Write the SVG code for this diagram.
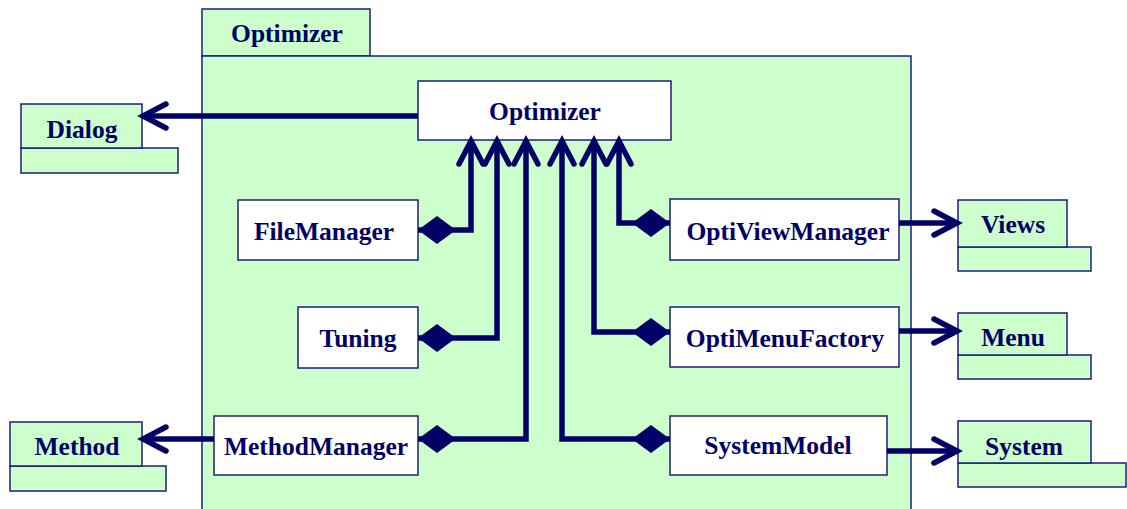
<svg xmlns="http://www.w3.org/2000/svg" width="1127" height="509" viewBox="0 0 1127 509">
  <style>
    .pkg { fill: #ccffcc; stroke: #1c1c80; stroke-width: 1.5; }
    .cls { fill: #ffffff; stroke: #1c1c80; stroke-width: 1.5; }
    .ext { fill: #ccffcc; stroke: #1c1c80; stroke-width: 1.5; }
    .lbl { font-family: "Liberation Serif", "Times New Roman", serif; font-weight: bold; font-size: 25.5px; fill: #000066; text-anchor: middle; }
    .link { fill: none; stroke: #000066; stroke-width: 5.5; stroke-linejoin: miter; }
    .dep { marker-end: url(#open); }
    .comp { marker-start: url(#diamond); }
  </style>
  <defs>
    <marker id="open" markerUnits="userSpaceOnUse" orient="auto" refX="0" refY="0" markerWidth="40" markerHeight="40" viewBox="-30 -20 40 40" overflow="visible">
      <path d="M -23 -12 L 0 0 L -23 12" fill="none" stroke="#000066" stroke-width="5.5" stroke-linecap="round" stroke-linejoin="miter"/>
    </marker>
    <marker id="diamond" markerUnits="userSpaceOnUse" orient="auto" refX="0" refY="0" markerWidth="50" markerHeight="40" viewBox="-5 -20 50 40" overflow="visible">
      <path d="M 0 0 L 19 -14 L 38 0 L 19 14 Z" fill="#000066"/>
    </marker>
  </defs>

  <!-- package Optimizer -->
  <g id="package-optimizer">
    <rect class="pkg" x="202" y="9" width="168" height="47"/>
    <rect class="pkg" x="202" y="56" width="709" height="460"/>
    <text class="lbl" x="287" y="42">Optimizer</text>
  </g>

  <!-- external packages -->
  <g id="dialog">
    <rect class="ext" x="21" y="148" width="157" height="25"/>
    <rect class="ext" x="21" y="104" width="121" height="44"/>
    <text class="lbl" x="82" y="138">Dialog</text>
  </g>
  <g id="method">
    <rect class="ext" x="10" y="466" width="156" height="25"/>
    <rect class="ext" x="10" y="422" width="132" height="44"/>
    <text class="lbl" x="77" y="455">Method</text>
  </g>
  <g id="views">
    <rect class="ext" x="958" y="247" width="133" height="24"/>
    <rect class="ext" x="958" y="200" width="109" height="47"/>
    <text class="lbl" x="1013" y="233">Views</text>
  </g>
  <g id="menu">
    <rect class="ext" x="958" y="355" width="133" height="24"/>
    <rect class="ext" x="958" y="313" width="109" height="42"/>
    <text class="lbl" x="1013" y="346">Menu</text>
  </g>
  <g id="system">
    <rect class="ext" x="958" y="463" width="168" height="24"/>
    <rect class="ext" x="958" y="421" width="133" height="42"/>
    <text class="lbl" x="1024" y="455">System</text>
  </g>

  <!-- classes -->
  <g id="optimizer">
    <rect class="cls" x="418" y="81" width="253" height="59"/>
    <text class="lbl" x="545" y="120">Optimizer</text>
  </g>
  <g id="filemanager">
    <rect class="cls" x="238" y="200" width="180" height="60"/>
    <text class="lbl" x="324" y="240">FileManager</text>
  </g>
  <g id="tuning">
    <rect class="cls" x="298" y="307" width="120" height="61"/>
    <text class="lbl" x="358" y="347">Tuning</text>
  </g>
  <g id="methodmanager">
    <rect class="cls" x="214" y="416" width="204" height="59"/>
    <text class="lbl" x="316" y="455">MethodManager</text>
  </g>
  <g id="optiviewmanager">
    <rect class="cls" x="670" y="199" width="229" height="61"/>
    <text class="lbl" x="788" y="240">OptiViewManager</text>
  </g>
  <g id="optimenufactory">
    <rect class="cls" x="670" y="307" width="229" height="60"/>
    <text class="lbl" x="785" y="347">OptiMenuFactory</text>
  </g>
  <g id="systemmodel">
    <rect class="cls" x="670" y="416" width="217" height="59"/>
    <text class="lbl" x="778" y="454">SystemModel</text>
  </g>

  <!-- connectors -->
  <g id="connectors">
    <!-- dependencies -->
    <path class="link dep" d="M 418 116 L 143 116"/>
    <path class="link dep" d="M 214 439 L 143 439"/>
    <path class="link dep" d="M 899 223 L 957 223"/>
    <path class="link dep" d="M 899 331 L 957 331"/>
    <path class="link dep" d="M 887 451 L 957 451"/>
    <!-- compositions into Optimizer -->
    <path class="link comp dep" d="M 418 230 L 471 230 L 471 141"/>
    <path class="link comp dep" d="M 418 338 L 497 338 L 497 141"/>
    <path class="link comp dep" d="M 418 439 L 526 439 L 526 141"/>
    <path class="link comp dep" d="M 670 439 L 562 439 L 562 141"/>
    <path class="link comp dep" d="M 670 332 L 594 332 L 594 141"/>
    <path class="link comp dep" d="M 670 223 L 619 223 L 619 141"/>
  </g>
</svg>
